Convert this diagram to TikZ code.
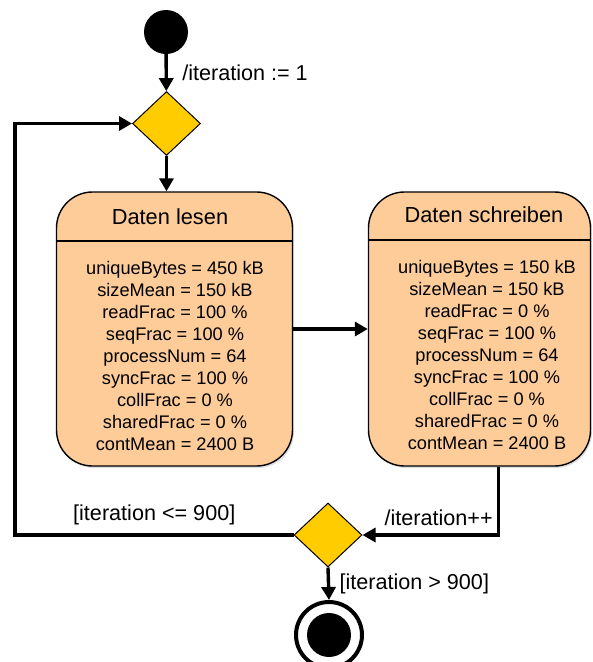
\documentclass[tikz,border=0pt]{standalone}
\usepackage{fontspec}
\setmainfont{Liberation Sans}
\usepackage{xcolor}
\definecolor{colorActivity}{RGB}{253,204,153}
\definecolor{colorChoice}{RGB}{255,204,0}
\usetikzlibrary{arrows.meta, positioning, shapes.geometric, shadows}
\tikzset{
  activity/.style={draw, line width=1.4pt, fill=colorActivity, rounded corners=36pt, minimum height=274pt,
    drop shadow={opacity=0.25, shadow xshift=1.5pt, shadow yshift=-2pt}},
  choice/.style={diamond, draw, line width=1pt, fill=colorChoice, minimum width=68pt, minimum height=64pt, inner sep=0pt},
  activityTitle/.style={font=\fontsize{21.8}{26}\selectfont, inner sep=0pt},
  activityBody/.style={font=\fontsize{18.2}{22.1}\selectfont, align=center, inner sep=0pt},
  guard/.style={font=\fontsize{21.6}{26}\selectfont},
  flow/.style={->, line width=3.4pt}
}

\begin{document}
\begin{tikzpicture}[x=1pt, y=-1pt, >={Triangle[length=13pt, width=14pt]}]
\useasboundingbox (0,0) rectangle (593,662);
\node[circle, fill=black, minimum size=44pt, inner sep=0pt] (start) at (166,32) {};
\node[choice] (merge) at (166.5,123.5) {};
\node[activity, minimum width=236pt] (lesen) at (174.5,329) {};
\node[activity, minimum width=222pt] (schreiben) at (479.5,329) {};
\node[choice] (decision) at (328,535) {};
\node[circle, draw, line width=4pt, fill=white, minimum size=66pt, inner sep=0pt] (final) at (329,635) {};
\node[circle, fill=black, minimum size=44pt, inner sep=0pt] (finalDot) at (final) {};
\coordinate (back) at (15,535);

\node[activityTitle] (lesenTitle) at (170,217) {Daten lesen};
\draw[line width=1.4pt] (lesen.west |- 0,241) -- (lesen.east |- 0,241);
\node[activityBody] (lesenBody) at (175,356) {uniqueBytes = 450 kB\\sizeMean = 150 kB\\readFrac = 100 \%\\seqFrac = 100 \%\\processNum = 64\\syncFrac = 100 \%\\collFrac = 0 \%\\sharedFrac = 0 \%\\contMean = 2400 B};

\node[activityTitle] (schreibenTitle) at (484,215) {Daten schreiben};
\draw[line width=1.4pt] (schreiben.west |- 0,240) -- (schreiben.east |- 0,240);
\node[activityBody] (schreibenBody) at (487,355) {uniqueBytes = 150 kB\\sizeMean = 150 kB\\readFrac = 0 \%\\seqFrac = 100 \%\\processNum = 64\\syncFrac = 100 \%\\collFrac = 0 \%\\sharedFrac = 0 \%\\contMean = 2400 B};

\draw[flow] (start) -- node[guard, right=11pt] {/iteration := 1} (merge);
\draw[flow] (merge.south) -- (merge.south |- lesen.north);
\draw[flow] (lesen.east) -- (schreiben.west);
\draw[flow] ([xshift=19pt]schreiben.south) |- node[guard, pos=0.72, above=4.5pt] {/iteration++} (decision.east);
\draw[flow] (decision.west) -- node[guard, above=4.5pt] {[iteration <= 900]} (back) |- (merge.west);
\draw[flow] (decision.south) -- node[guard, right=6pt] {[iteration > 900]} (final.north);
\end{tikzpicture}
\end{document}
